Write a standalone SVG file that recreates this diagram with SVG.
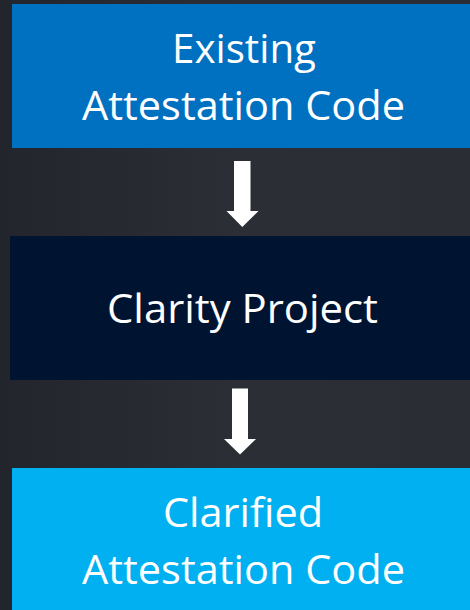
<svg xmlns="http://www.w3.org/2000/svg" width="470" height="610" viewBox="0 0 470 610">
<defs>
<style>
.t{font-family:"Open Sans","Liberation Sans",sans-serif;font-size:40px;fill:#fff;text-anchor:middle}
.arrow{fill:#fff}
</style>
<linearGradient id="bg" x1="0" y1="0" x2="1" y2="0">
<stop offset="0" stop-color="#22262c"/>
<stop offset="0.5" stop-color="#2b2f35"/>
<stop offset="1" stop-color="#2a2e34"/>
</linearGradient>
</defs>
<rect width="470" height="610" fill="url(#bg)"/>
<g id="node-existing">
<rect x="12" y="4" width="458" height="144" fill="#0070c0"/>
<text class="t" x="244" y="62.5" textLength="144" lengthAdjust="spacingAndGlyphs">Existing</text>
<text class="t" x="243.5" y="120" textLength="323" lengthAdjust="spacingAndGlyphs">Attestation Code</text>
</g>
<g id="node-clarity">
<rect x="10" y="236" width="460" height="144" fill="#001432"/>
<text class="t" x="242.5" y="323" textLength="271" lengthAdjust="spacingAndGlyphs">Clarity Project</text>
</g>
<g id="node-clarified">
<rect x="12" y="468" width="458" height="142" fill="#00b0f0"/>
<text class="t" x="243" y="526.5" textLength="160" lengthAdjust="spacingAndGlyphs">Clarified</text>
<text class="t" x="243.5" y="584" textLength="323" lengthAdjust="spacingAndGlyphs">Attestation Code</text>
</g>
<g id="connectors">
<polygon class="arrow" points="234,161 250.5,161 250.5,211 258.5,211 242.3,227 226.5,211 234,211"/>
<polygon class="arrow" points="232,388.5 248,388.5 248,439 256,439 240,454.5 224,439 232,439"/>
</g>
</svg>
